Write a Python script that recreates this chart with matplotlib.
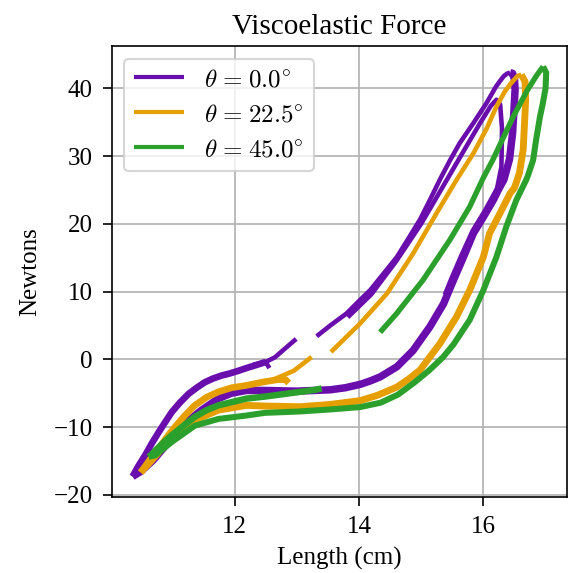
import numpy as np
import matplotlib.pyplot as plt

plt.rcParams['font.family'] = ['Liberation Serif', 'DejaVu Serif']
plt.rcParams['mathtext.fontset'] = 'cm'
plt.rcParams['font.size'] = 12
plt.rcParams['xtick.major.size'] = 4.3
plt.rcParams['ytick.major.size'] = 4.3
plt.rcParams['xtick.major.pad'] = 5
plt.rcParams['ytick.major.pad'] = 5

nan = np.nan

colors = ['#6a0dad', '#e69f00', '#2ca02c']
labels = [r'$\theta\hspace{0.1}=\hspace{0.1}0.0^{\circ}$',
          r'$\theta\hspace{0.1}=\hspace{0.1}22.5^{\circ}$',
          r'$\theta\hspace{0.1}=\hspace{0.1}45.0^{\circ}$']

# theta = 0.0 : loading start (tip -> hook)
p_up1_x = [10.36, 10.45, 10.56, 10.67, 10.78, 10.89, 10.99, 11.12, 11.26, 11.39, 11.52, 11.65,
           11.79, 11.92, 12.06, 12.19, 12.33, 12.50]
p_up1_y = [-17.3, -15.8, -14.2, -12.4, -10.75, -9.2, -7.8, -6.4, -5.1, -4.2, -3.4, -2.85,
           -2.4, -2.1, -1.7, -1.3, -0.9, -0.4]
p_hook_x = [12.30, 12.50, 12.56]
p_hook_y = [-0.8, -0.4, -1.3]
# loading rest (with a gap)
p_up2_x = [12.50, 12.65, 12.80, 12.99, nan, 13.32, 13.54, 13.80, 14.00, 14.18, 14.40, 14.61,
           14.80, 14.98, 15.14, 15.30, 15.46, 15.62, 15.85, 16.05, 16.20, 16.27, 16.33, 16.38, 16.43]
p_up2_y = [-0.4, 0.3, 1.5, 3.0, nan, 3.4, 5.0, 6.76, 8.6, 10.2, 12.7, 15.1,
           17.9, 20.6, 23.5, 26.5, 29.3, 31.9, 35.0, 37.8, 40.2, 41.1, 41.8, 42.15, 42.3]
# second cycle near the top
p_in_x = [13.82, 14.20, 14.60, 15.00, 15.35, 15.70, 15.95, 16.12, 16.21, 16.27, 16.30, 16.29,
          16.22, 16.03, 15.83, 15.65, 15.49, 15.38]
p_in_y = [6.2, 9.6, 14.5, 20.0, 25.5, 31.0, 34.9, 37.4, 38.3, 37.6, 34.0, 28.4,
          25.2, 22.0, 19.0, 15.4, 12.0, 9.5]
# unloading
p_dn_x = [16.43, 16.47, 16.50, 16.51, 16.49, 16.47, 16.42, 16.33, 16.24, 16.16, 16.00, 15.84,
          15.68, 15.52, 15.36, 15.14, 14.87, 14.61, 14.34, 14.18, 14.02, 13.78, 13.54, 13.00,
          12.49, 12.19, 11.95, 11.74, 11.47, 11.20, 10.94, 10.70, 10.50, 10.36]
p_dn_y = [42.3, 42.2, 41.3, 39.8, 36.5, 33.4, 29.5, 26.5, 25.0, 23.5, 21.0, 18.6,
          15.1, 11.7, 8.2, 4.8, 1.3, -1.1, -2.6, -3.2, -3.7, -4.2, -4.5, -4.7,
          -4.6, -4.6, -5.0, -5.8, -7.5, -9.5, -12.2, -14.8, -16.5, -17.3]

# theta = 22.5
o_up1_x = [10.49, 10.64, 10.78, 10.91, 11.04, 11.20, 11.36, 11.55, 11.74, 11.95, 12.19, 12.49,
           12.70, 12.82, 12.87]
o_up1_y = [-16.7, -14.8, -13.2, -11.5, -10.0, -8.3, -6.8, -5.6, -4.8, -4.2, -3.85, -3.3,
           -3.0, -3.0, -3.5]
o_up2_x = [12.62, 12.80, 12.95, 13.24, nan, 13.55, 14.02, 14.45, 14.87, 15.25, 15.57, 15.84,
           16.05, 16.21, 16.35, 16.45, 16.55, 16.61]
o_up2_y = [-3.0, -2.3, -1.7, 0.34, nan, 1.08, 5.3, 9.7, 15.6, 21.6, 26.5, 30.4,
           34.0, 37.3, 39.6, 40.8, 41.8, 42.0]
o_dn_x = [16.61, 16.67, 16.68, 16.66, 16.64, 16.58, 16.50, 16.43, 16.27, 16.10, 16.00, 15.78,
          15.57, 15.30, 14.98, 14.80, 14.61, 14.30, 14.02, 13.54, 13.05, 12.49, 12.19, 11.74,
          11.36, 11.10, 10.89, 10.68, 10.49]
o_dn_y = [42.0, 41.0, 38.3, 34.5, 30.9, 27.5, 25.3, 24.5, 21.6, 18.6, 15.1, 10.2,
          6.3, 2.3, -1.6, -2.9, -4.1, -5.3, -6.1, -6.66, -7.0, -6.9, -6.8, -7.5,
          -9.0, -10.8, -12.6, -14.8, -16.7]

# theta = 45.0
g_up_x = [14.34, 14.61, 15.03, 15.46, 15.78, 16.00, 16.15, 16.48, 16.70, 16.85, 16.96]
g_up_y = [4.0, 6.8, 11.7, 17.6, 22.5, 26.8, 29.4, 35.8, 39.6, 41.8, 43.2]
g_dn_x = [16.96, 17.01, 17.00, 16.95, 16.91, 16.85, 16.80, 16.72, 16.69, 16.53, 16.37, 16.21,
          16.00, 15.78, 15.52, 15.35, 15.12, 14.88, 14.63, 14.35, 14.02, 13.54, 13.05, 12.49,
          12.19, 11.74, 11.36, 10.99, 10.72, 10.62]
g_dn_y = [43.2, 42.3, 40.0, 37.5, 35.8, 32.5, 29.4, 27.2, 26.5, 23.5, 19.6, 15.1,
          10.2, 5.8, 2.2, 0.3, -1.7, -3.5, -5.2, -6.4, -7.05, -7.4, -7.7, -7.9,
          -8.3, -8.8, -9.8, -12.2, -14.2, -14.4]
g_ret_x = [10.62, 10.67, 10.83, 10.99, 11.18, 11.36, 11.55, 11.74, 12.19, 12.49, 12.90, 13.30, 13.40]
g_ret_y = [-14.4, -14.0, -12.5, -11.2, -9.8, -8.5, -7.5, -6.8, -5.8, -5.5, -5.0, -4.5, -4.3]

fig = plt.figure(figsize=(568 / 150, 573 / 150), dpi=150)
ax = fig.add_axes([0.197, 0.1326, 0.801, 0.787])
ax.grid(True)
ax.set_axisbelow(True)

c = colors
kw = dict(solid_capstyle='butt')
ax.plot(p_up2_x, p_up2_y, color=c[0], lw=2.2, label=labels[0], **kw)
ax.plot(p_up1_x, p_up1_y, color=c[0], lw=3.2, **kw)
ax.plot(p_hook_x, p_hook_y, color=c[0], lw=2.2, **kw)
ax.plot(p_in_x, p_in_y, color=c[0], lw=2.2, **kw)
ax.plot(p_dn_x, p_dn_y, color=c[0], lw=3.6, **kw)

ax.plot(o_up2_x, o_up2_y, color=c[1], lw=2.2, label=labels[1], **kw)
ax.plot(o_up1_x, o_up1_y, color=c[1], lw=3.2, **kw)
ax.plot(o_dn_x, o_dn_y, color=c[1], lw=3.3, **kw)

ax.plot(g_up_x, g_up_y, color=c[2], lw=2.6, label=labels[2], **kw)
ax.plot(g_dn_x, g_dn_y, color=c[2], lw=2.9, **kw)
ax.plot(g_ret_x, g_ret_y, color=c[2], lw=3.1, **kw)

ax.set_xticks([12, 14, 16])
ax.set_yticks([-20, -10, 0, 10, 20, 30, 40])
ax.set_xlabel('Length (cm)')
ax.set_ylabel('Newtons', labelpad=6)
ax.set_title('Viscoelastic Force', fontsize=14)

leg = ax.legend(loc='upper left')
for h in leg.get_lines():
    h.set_linewidth(2.0)

fig.savefig('out.png', dpi=150)
